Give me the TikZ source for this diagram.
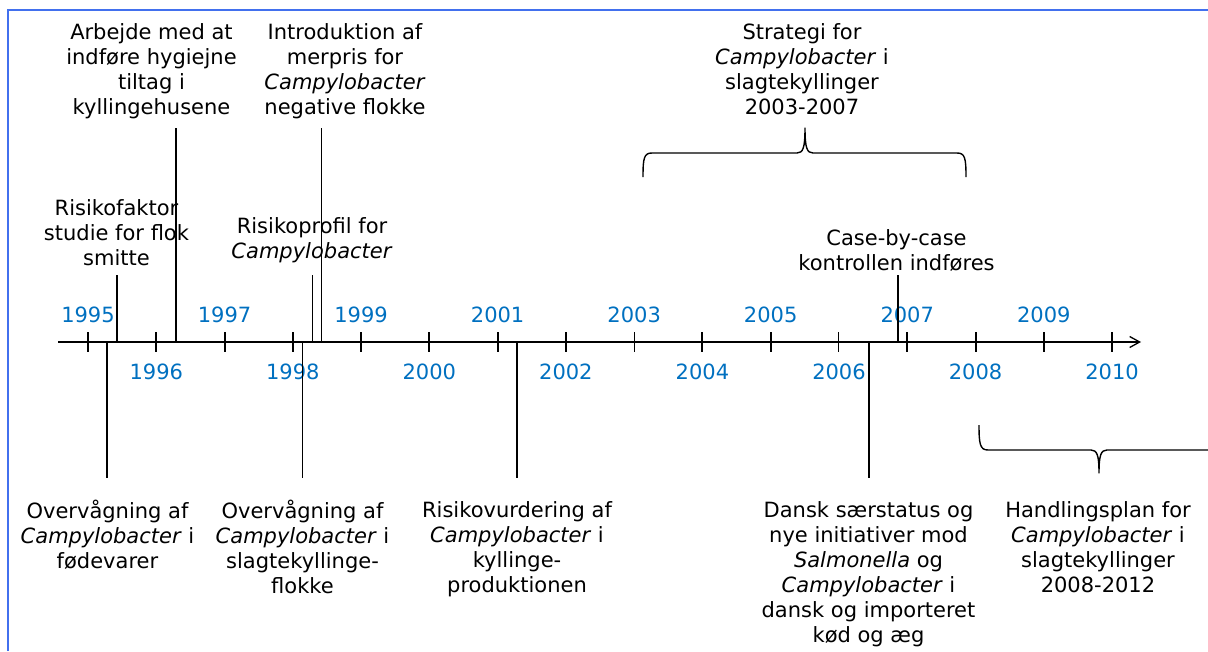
\documentclass[tikz,border=0pt]{standalone}
\usepackage{fontspec}
\setmainfont{DejaVu Sans}
\usetikzlibrary{arrows.meta}
\definecolor{frameblue}{RGB}{66,112,238}
\definecolor{yearblue}{RGB}{0,112,192}
\newcommand{\fl}{\rule{0pt}{17pt}}
\newcommand{\cb}{\textit{Campylobacter}}
\begin{document}
\begin{tikzpicture}[x=1pt,y=-1pt,
  lbl/.style={anchor=north, inner sep=0pt, align=center, font=\fontsize{21}{25}\selectfont},
  yr/.style={anchor=base, inner sep=0pt, text=yearblue, font=\fontsize{21}{25}\selectfont},
  thickline/.style={line width=2pt},
  thinline/.style={line width=1pt},
  tickmark/.style={line width=2pt},
  thintick/.style={line width=1pt},
  bracepath/.style={line width=1.4pt, line join=round}
]
\useasboundingbox (0,0) rectangle (1208,651);
\clip (0,0) rectangle (1208,651);
\draw[frameblue, line width=2pt] (8,651) -- (8,10) -- (1208,10);

% axis
\coordinate (ax0) at (58,342);
\coordinate (ax1) at (1141,342);
\draw[line width=1.3pt, -{Straight Barb[length=10pt,width=11pt]}] (ax0) -- (ax1);

\foreach \yy [evaluate=\yy as \xx using {88+(\yy-1995)*68.27}] in {1995,...,2010}{
  \ifnum\yy=2003 \draw[thintick] (\xx,332) -- (\xx,352);
  \else\ifnum\yy=2006 \draw[thintick] (\xx,332) -- (\xx,352);
  \else \draw[tickmark] (\xx,332) -- (\xx,352); \fi\fi
  \ifodd\yy \node[yr] (y\yy) at (\xx,322) {\yy};
  \else \node[yr] (y\yy) at (\xx,379) {\yy}; \fi
}

% top labels
\node[lbl] (arb) at (151.5,22) {\fl Arbejde med at\\indføre hygiejne\\tiltag i\\kyllingehusene};
\node[lbl] (intro) at (345,22) {\fl Introduktion af\\merpris for\\\cb\\negative flokke};
\node[lbl] (strat) at (802,22) {\fl Strategi for\\\cb{} i\\slagtekyllinger\\2003-2007};
\node[lbl] (rfak) at (116.5,198) {\fl Risikofaktor\\studie for flok\\smitte};
\node[lbl] (rprof) at (312,216) {\fl Risikoprofil for\\\cb};
\node[lbl] (case) at (896.5,228) {\fl Case-by-case\\kontrollen indføres};

% bottom labels
\node[lbl] (ov1) at (107.5,500) {\fl Overvågning af\\\cb{} i\\fødevarer};
\node[lbl] (ov2) at (302.5,500) {\fl Overvågning af\\\cb{} i\\slagtekyllinge-\\flokke};
\node[lbl] (rvur) at (517,500) {\fl Risikovurdering af\\\cb{} i\\kyllinge-\\produktionen};
\node[lbl] (dansk) at (868.5,500) {\fl Dansk særstatus og\\nye initiativer mod\\\textit{Salmonella} og\\\cb{} i\\dansk og importeret\\kød og æg};
\node[lbl] (hand) at (1098,500) {\fl Handlingsplan for\\\cb{} i\\slagtekyllinger\\2008-2012};

% connector end points
\coordinate (rfakT) at (116.7,275); \coordinate (rfakB) at (116.7,342);
\coordinate (arbT) at (175.7,128);  \coordinate (arbB) at (175.7,342);
\coordinate (introT) at (321.7,128); \coordinate (introB) at (321.7,342);
\coordinate (rprofT) at (312.5,275); \coordinate (rprofB) at (312.5,342);
\coordinate (caseT) at (897.8,275); \coordinate (caseB) at (897.8,342);
\coordinate (ov1T) at (106.8,342); \coordinate (ov1B) at (106.8,478);
\coordinate (ov2T) at (302.3,342); \coordinate (ov2B) at (302.3,478);
\coordinate (rvurT) at (517,342); \coordinate (rvurB) at (517,478);
\coordinate (danskT) at (868.5,342); \coordinate (danskB) at (868.5,478);

\draw[thickline] (rfakT) -- (rfakB);
\draw[thickline] (arbT) -- (arbB);
\draw[thinline] (introT) -- (introB);
\draw[thinline] (rprofT) -- (rprofB);
\draw[thickline] (caseT) -- (caseB);
\draw[thickline] (ov1T) -- (ov1B);
\draw[thinline] (ov2T) -- (ov2B);
\draw[thickline] (rvurT) -- (rvurB);
\draw[thickline] (danskT) -- (danskB);

% braces
\draw[bracepath] (643,177) .. controls (643,158) and (644,153) .. (652,153) -- (797,153)
  .. controls (803,153) and (805,148) .. (805,128)
  .. controls (805,148) and (807,153) .. (813,153) -- (957,153)
  .. controls (965,153) and (966,158) .. (966,177);
\draw[bracepath] (979,425) .. controls (979,444) and (980,450) .. (988,450) -- (1091,450)
  .. controls (1097,450) and (1099,455) .. (1099,473)
  .. controls (1099,455) and (1101,450) .. (1107,450) -- (1210,450)
  .. controls (1218,450) and (1219,444) .. (1219,425);
\end{tikzpicture}
\end{document}
